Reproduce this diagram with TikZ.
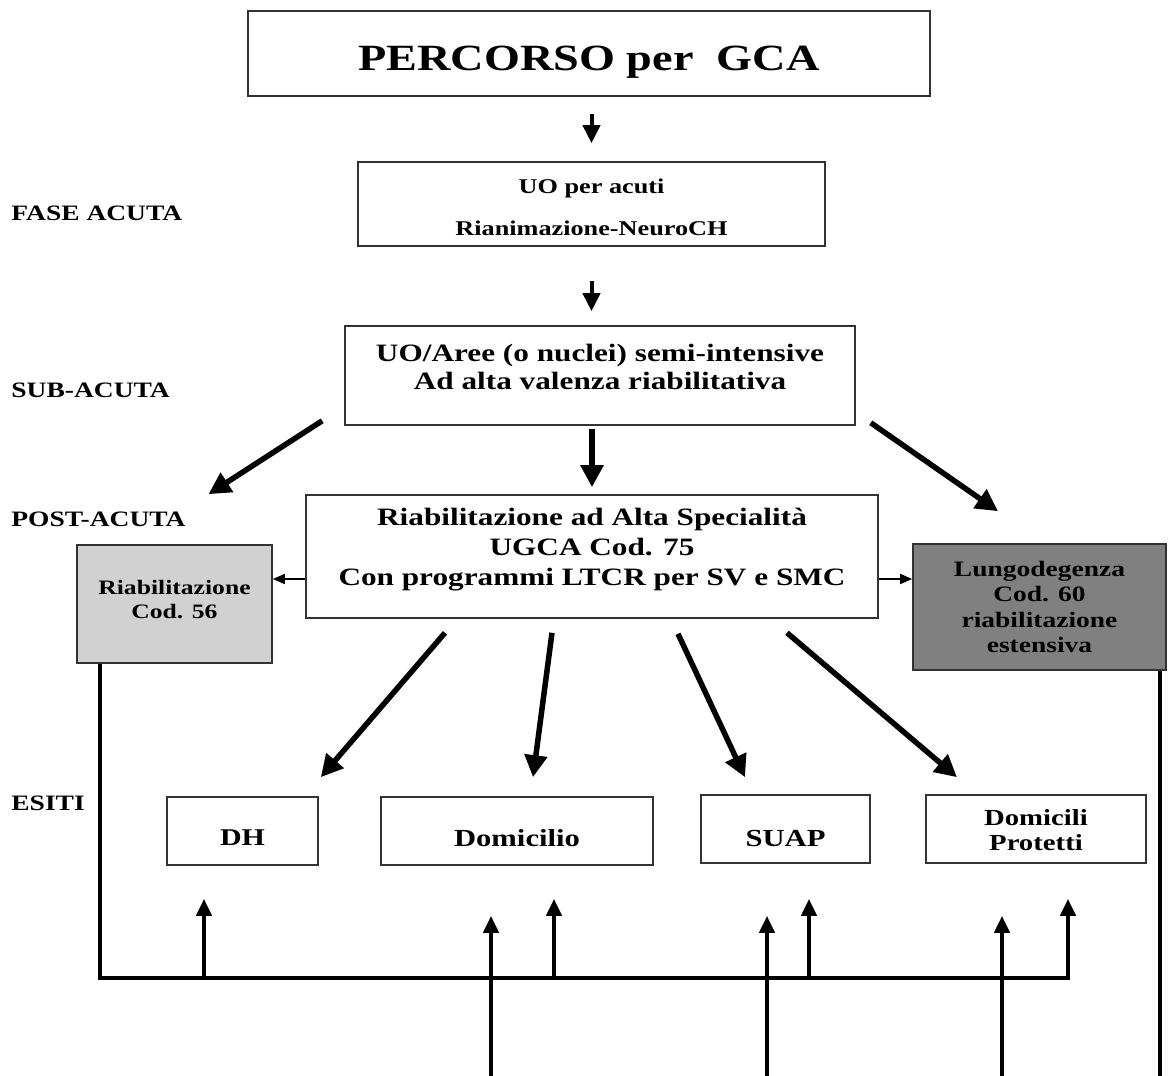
\documentclass[tikz,border=0pt]{standalone}
\usepackage{fontspec}
\setmainfont{Liberation Serif}[FakeStretch=1.25]
\usetikzlibrary{arrows.meta}
\begin{document}
\begin{tikzpicture}[x=0.5pt,y=-0.5pt,
  box/.style={draw=black!80, line width=0.8pt, fill=white, inner sep=0pt},
  txt/.style={align=center, inner sep=0pt},
  lab/.style={anchor=west, inner sep=0pt, font=\fontsize{11}{13}\selectfont\bfseries},
  arrA/.style={line width=2pt, -{Triangle[width=8.5pt,length=9pt]}},
  arrB/.style={line width=2.75pt, -{Triangle[width=11pt,length=11pt]}},
  arrC/.style={line width=0.8pt, -{Triangle[width=5pt,length=6pt]}},
  arrD/.style={line width=2pt, -{Triangle[width=7.5pt,length=8.5pt]}},
  thick line/.style={line width=2pt}
]
\useasboundingbox (0,0) rectangle (1168,1076);

% boxes
\node[box, minimum width=341pt, minimum height=42.5pt] (title) at (589,53.5) {};
\node[box, minimum width=233.5pt, minimum height=42pt] (uo) at (591.5,204) {};
\node[box, minimum width=255pt, minimum height=49.5pt] (semi) at (600,375.5) {};
\node[box, minimum width=286pt, minimum height=61.5pt] (central) at (592,556.5) {};
\node[box, fill=black!18, minimum width=97.5pt, minimum height=59pt] (left) at (174.5,604) {};
\node[box, fill=black!50, minimum width=126.5pt, minimum height=63pt] (right) at (1039.5,607) {};
\node[box, minimum width=75.5pt, minimum height=34pt] (dh) at (242.5,831) {};
\node[box, minimum width=136pt, minimum height=34pt] (dom) at (517,831) {};
\node[box, minimum width=84.5pt, minimum height=34pt] (suap) at (785.5,829) {};
\node[box, minimum width=110pt, minimum height=34pt] (prot) at (1036,829) {};

% texts
\node[txt, font=\fontsize{18.5}{20}\selectfont\bfseries] (titlet) at (589,62) {PERCORSO per~~GCA};
\node[txt, font=\fontsize{10.5}{21}\selectfont\bfseries] (uot) at (591.5,207) {UO per acuti\\Rianimazione-NeuroCH};
\node[txt, font=\fontsize{12.5}{14}\selectfont\bfseries] (semit) at (600,367) {UO/Aree (o nuclei) semi-intensive\\Ad alta valenza riabilitativa};
\node[txt, font=\fontsize{12.5}{15}\selectfont\bfseries] (centralt) at (592,550) {Riabilitazione ad Alta Specialità\\UGCA Cod. 75\\Con programmi LTCR per SV e SMC};
\node[txt, font=\fontsize{10.25}{12}\selectfont\bfseries] (leftt) at (174.5,600) {Riabilitazione\\Cod. 56};
\node[txt, font=\fontsize{11}{12.75}\selectfont\bfseries] (rightt) at (1039.5,607) {Lungodegenza\\Cod. 60\\riabilitazione\\estensiva};
\node[txt, font=\fontsize{12}{14}\selectfont\bfseries] (dht) at (242.5,838) {DH};
\node[txt, font=\fontsize{12.25}{14}\selectfont\bfseries] (domt) at (517,838) {Domicilio};
\node[txt, font=\fontsize{12.25}{14}\selectfont\bfseries] (suapt) at (785.5,839) {SUAP};
\node[txt, font=\fontsize{11.5}{12.5}\selectfont\bfseries] (prott) at (1036,830.5) {Domicili\\Protetti};

% side labels
\node[lab] (l1) at (11,213) {FASE ACUTA};
\node[lab] (l2) at (11,390) {SUB-ACUTA};
\node[lab] (l3) at (11,519) {POST-ACUTA};
\node[lab] (l4) at (11,803) {ESITI};

% top arrows
\draw[arrA, shorten <=8.5pt, shorten >=9pt] (title.south -| uo.north) -- (uo.north);
\draw[arrA, shorten <=17pt, shorten >=7pt] (uo.south) -- (uo.south |- semi.north);

% from semi
\draw[arrB] ([shift={(-22,-5)}]semi.south west) -- ([shift={(34,-50)}]left.north);
\draw[arrB, shorten <=1.5pt, shorten >=3.5pt] (central.north |- semi.south) -- (central.north);
\draw[arrB] ([shift={(15,-3)}]semi.south east) -- ([shift={(-41.5,-32)}]right.north);

% side thin arrows
\draw[arrC] ([yshift=-11.25pt]central.west) -- ([yshift=-11.25pt]central.west -| left.east);
\draw[arrC] ([yshift=-11.25pt]central.east) -- ([yshift=-11.25pt]central.east -| right.west);

% from central to esiti
\draw[arrB] ([shift={(-147,14)}]central.south) -- ([shift={(2,-19)}]dh.north east);
\draw[arrB] ([shift={(-40,14)}]central.south) -- ([shift={(16,-19)}]dom.north);
\draw[arrB] ([shift={(86,15)}]central.south) -- ([shift={(-40.5,-17)}]suap.north);
\draw[arrB] ([shift={(195,14)}]central.south) -- ([shift={(-79,-17)}]prot.north);

% bottom network
\coordinate (hl) at (100,978);
\coordinate (hr) at (1068,978);
\coordinate (u1) at (204,978);
\coordinate (u2) at (554,978);
\coordinate (u3) at (809,978);
\coordinate (b1) at (491,1076);
\coordinate (b2) at (767,1076);
\coordinate (b3) at (1002,1076);
\coordinate (rv) at (1160,1076);

\draw[arrD, shorten >=17.5pt] (left.south -| hl) -- (hl) -- (hr) -- (hr |- prot.south);
\draw[arrD, shorten >=16.5pt] (u1) -- (u1 |- dh.south);
\draw[arrD, shorten >=16.5pt] (u2) -- (u2 |- dom.south);
\draw[arrD, shorten >=17.5pt] (u3) -- (u3 |- suap.south);
\draw[arrD, shorten >=25pt] (b1) -- (b1 |- dom.south);
\draw[arrD, shorten >=26pt] (b2) -- (b2 |- suap.south);
\draw[arrD, shorten >=26pt] (b3) -- (b3 |- prot.south);
\draw[thick line] (rv |- right.south) -- (rv);
\end{tikzpicture}
\end{document}
